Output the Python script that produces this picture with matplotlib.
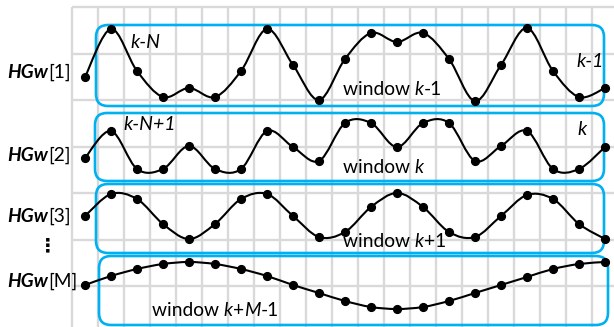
import numpy as np
import matplotlib
matplotlib.use("Agg")
import matplotlib.pyplot as plt
from matplotlib.path import Path
from matplotlib.patches import PathPatch, FancyBboxPatch
from matplotlib import transforms

plt.rcParams['font.family'] = ['Lato', 'DejaVu Sans']

# Sample index shared by all windows
samples = np.arange(21)

# Signal levels of each window (height above the bottom of its frame)
hgw1 = [29, 77, 35, 9, 18, 9, 35, 77, 41, 6, 47, 73, 64, 73, 47, 5, 41, 78, 35, 9, 18]
hgw2 = [23, 50, 12, 12, 35, 12, 12, 50, 34, 20, 58, 58, 34, 58, 58, 20, 35, 50, 12, 12, 34]
hgw3 = [37, 59, 54, 29, 14, 29, 54, 59, 37, 16, 21, 46, 60, 46, 21, 16, 37, 58, 54, 29, 14]
hgwM = [40, 49, 56, 61, 63, 61, 56, 49, 40, 32, 24, 18, 16, 18, 24, 32, 40, 48, 56, 61, 63]

series = [hgw1, hgw2, hgw3, hgwM]
row_labels = ["[1]", "[2]", "[3]", "[M]"]

W, H = 614, 327
fig = plt.figure(figsize=(W / 100, H / 100), dpi=100)
ax = fig.add_axes([0, 0, 1, 1])
ax.set_xlim(-85 / 26, (W - 85) / 26)
ax.set_ylim(0, H)
ax.axis('off')

# pixel layout transform (origin top-left)
px = transforms.Affine2D().scale(1 / W, -1 / H).translate(0, 1) + fig.transFigure

GRID = '#d9d9d9'
BLUE = '#00b0f0'

# background grid
ax.vlines(np.arange(-0.5, 20.5), 0, H - 7, color=GRID, lw=1.7, zorder=0)
ax.hlines(H - 7 - 46.5 * np.arange(7), -0.5, (W - 85) / 26, color=GRID, lw=1.7, zorder=0)

# window frames (pixel layout: x0, x1, y0, y1)
frames = [(96, 604, 25, 106), (95, 604, 113, 181), (96, 604, 184, 253), (99, 608, 256, 325)]
for x0, x1, y0, y1 in frames:
    ax.add_patch(FancyBboxPatch((x0, y0), x1 - x0, y1 - y0,
                                boxstyle="round,pad=0,rounding_size=12",
                                transform=px, fill=False, ec=BLUE, lw=1.9, zorder=2))

# baselines of each row in data units (bottom of each frame)
row_base = [H - f[3] for f in frames]


def smooth_path(x, y):
    pts = np.column_stack([x, y]).astype(float)
    ext = np.vstack([pts[0], pts, pts[-1]])
    verts = [pts[0]]
    codes = [Path.MOVETO]
    for i in range(len(pts) - 1):
        p0, p1, p2, p3 = ext[i], ext[i + 1], ext[i + 2], ext[i + 3]
        c1 = p1 + (p2 - p0) / 6
        c2 = p2 - (p3 - p1) / 6
        verts += [c1, c2, p2]
        codes += [Path.CURVE4] * 3
    return Path(verts, codes)


for vals, base in zip(series, row_base):
    y = base + np.asarray(vals, dtype=float)
    ax.add_patch(PathPatch(smooth_path(samples, y), fill=False, ec='black', lw=1.5, zorder=3))
    ax.plot(samples, y, 'o', color='black', ms=5.6, zorder=4)


def rich_text(x, y, parts, size):
    prev = None
    for txt, style, weight in parts:
        if prev is None:
            prev = ax.text(x, y, txt, transform=px, fontsize=size, style=style,
                           weight=weight, ha='left', va='baseline', zorder=5)
        else:
            prev = ax.annotate(txt, xy=(1, 0), xycoords=prev, fontsize=size,
                               style=style, weight=weight, ha='left', va='bottom', zorder=5)


label_baselines = [78, 161, 222, 287]
for lab, yb in zip(row_labels, label_baselines):
    rich_text(7, yb, [("HGw", 'italic', 'bold'), (lab, 'normal', 'normal')], 13.8)

ax.text(48, 246, "\u22ee", transform=px, fontsize=14, weight='bold',
        ha='center', va='center', family=['DejaVu Sans'])

# window captions
rich_text(343, 95, [("window ", 'normal', 'normal'), ("k", 'italic', 'normal'), ("-1", 'normal', 'normal')], 13.8)
rich_text(343, 173, [("window ", 'normal', 'normal'), ("k", 'italic', 'normal')], 13.8)
rich_text(343, 247, [("window ", 'normal', 'normal'), ("k", 'italic', 'normal'), ("+1", 'normal', 'normal')], 13.8)
rich_text(152, 316, [("window ", 'normal', 'normal'), ("k", 'italic', 'normal'), ("+", 'normal', 'normal'),
                     ("M", 'italic', 'normal'), ("-1", 'normal', 'normal')], 13.8)

# sample index markers
rich_text(130, 48, [("k-N", 'italic', 'normal')], 14)
rich_text(576, 67, [("k-1", 'italic', 'normal')], 14)
rich_text(123, 130, [("k-N+1", 'italic', 'normal')], 14)
rich_text(577, 135, [("k", 'italic', 'normal')], 14)

fig.savefig("out.png", dpi=100)
